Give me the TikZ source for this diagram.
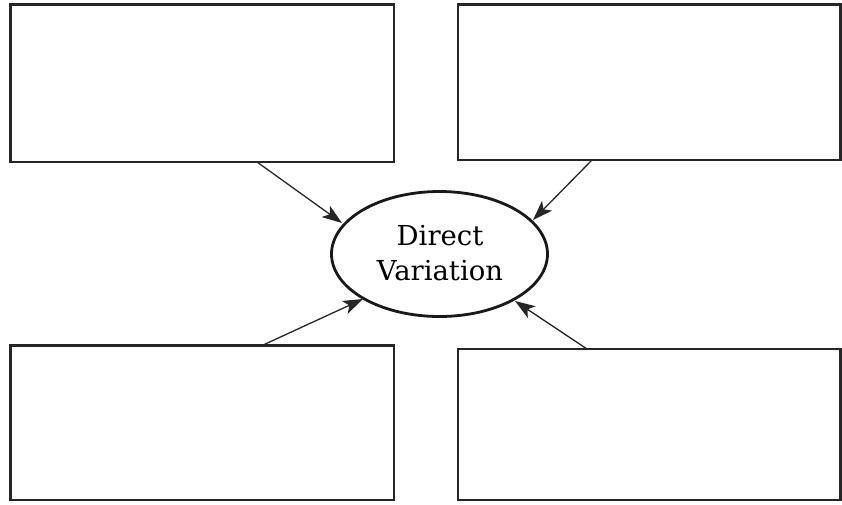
\documentclass[tikz,border=0pt]{standalone}
\usepackage{fontspec}
\setmainfont{DejaVu Serif}
\usetikzlibrary{arrows.meta,shapes.geometric}
\begin{document}
\begin{tikzpicture}[x=1pt,y=-1pt,
  blank/.style={draw=black!85,line width=2.8pt},
  hub/.style={draw=black!90,line width=2.8pt},
  link/.style={draw=black!85,line width=1.3pt,-{Stealth[length=20pt,width=14pt,inset=5pt]}}]
\useasboundingbox (0,0) rectangle (842,504);
% four empty boxes
\draw[blank] (10.7,4.7) rectangle (394,162);
\draw[blank] (458,4.7) rectangle (840.5,160);
\draw[blank] (10.7,345.5) rectangle (394,500);
\draw[blank] (458,349) rectangle (840.5,500);
% central ellipse
\draw[hub] (439.5,254) ellipse [x radius=108, y radius=62.5];
\node[font=\fontsize{27.5}{35}\selectfont,align=center] (hubtext) at (440,253) {Direct\\Variation};
% connectors from box edges to the ellipse
\coordinate (s1) at (257,162);
\coordinate (e1) at (342,223);
\coordinate (s2) at (592,160);
\coordinate (e2) at (533,220);
\coordinate (s3) at (262,345.5);
\coordinate (e3) at (363,299);
\coordinate (s4) at (587,349);
\coordinate (e4) at (515,301);
\draw[link] (s1) -- (e1);
\draw[link] (s2) -- (e2);
\draw[link] (s3) -- (e3);
\draw[link] (s4) -- (e4);
\end{tikzpicture}
\end{document}
